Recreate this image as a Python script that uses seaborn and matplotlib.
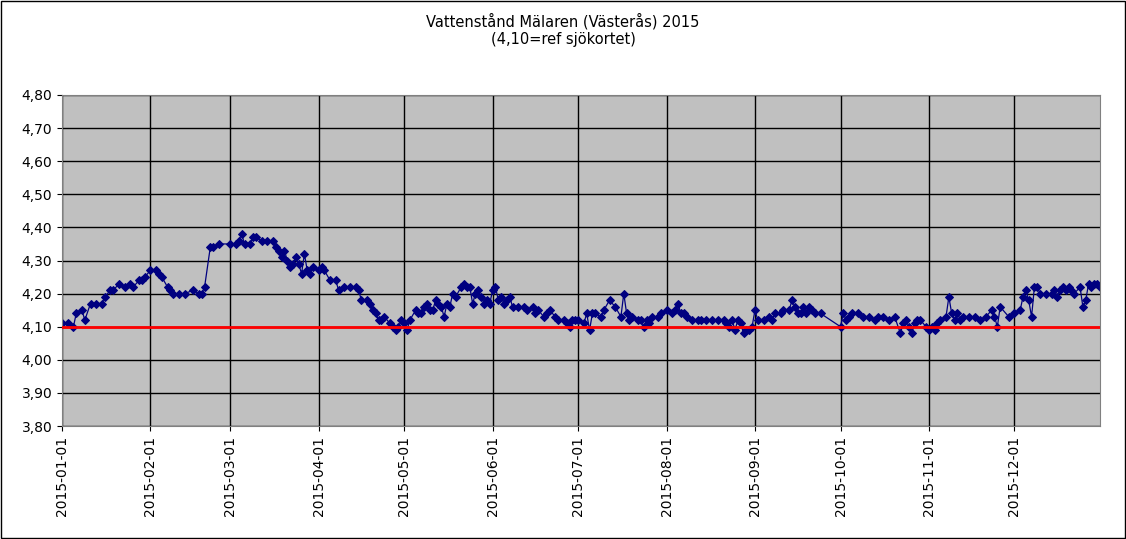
import matplotlib
matplotlib.use("Agg")
import matplotlib.pyplot as plt
import matplotlib.dates as mdates
import seaborn as sns
import pandas as pd

# Water level readings
jan = [(1, 4.11), (3, 4.11), (5, 4.10), (6, 4.14), (8, 4.15), (9, 4.12), (11, 4.17), (13, 4.17),
       (15, 4.17), (16, 4.19), (18, 4.21), (19, 4.21), (21, 4.23), (23, 4.22), (25, 4.23), (26, 4.22),
       (28, 4.24), (29, 4.24), (30, 4.25)]
feb = [(1, 4.27), (3, 4.27), (4, 4.26), (5, 4.25), (7, 4.22), (8, 4.21), (9, 4.20), (11, 4.20),
       (13, 4.20), (16, 4.21), (18, 4.20), (19, 4.20), (20, 4.22), (22, 4.34), (23, 4.34), (25, 4.35)]
mar = [(1, 4.35), (3, 4.35), (4, 4.36), (5, 4.38), (6, 4.35), (8, 4.35), (9, 4.37), (10, 4.37),
       (12, 4.36), (14, 4.36), (16, 4.36), (17, 4.34), (18, 4.33), (19, 4.31), (20, 4.33), (21, 4.30),
       (22, 4.28), (23, 4.29), (24, 4.31), (25, 4.29), (26, 4.26), (27, 4.32), (28, 4.27), (29, 4.26),
       (30, 4.28)]
apr = [(1, 4.27), (2, 4.28), (3, 4.27), (5, 4.24), (7, 4.24), (8, 4.21), (10, 4.22), (12, 4.22),
       (14, 4.22), (15, 4.21), (16, 4.18), (18, 4.18), (19, 4.17), (20, 4.15), (21, 4.14), (22, 4.12),
       (23, 4.12), (24, 4.13), (26, 4.11), (27, 4.10), (28, 4.09), (29, 4.10), (30, 4.12)]
may = [(1, 4.11), (2, 4.09), (3, 4.12), (5, 4.15), (6, 4.14), (7, 4.14), (8, 4.16), (9, 4.17),
       (10, 4.15), (11, 4.15), (12, 4.18), (13, 4.17), (14, 4.16), (15, 4.13), (16, 4.17), (17, 4.16),
       (18, 4.20), (19, 4.19), (21, 4.22), (22, 4.23), (23, 4.22), (24, 4.22), (25, 4.17), (26, 4.20),
       (27, 4.21), (28, 4.19), (29, 4.17), (30, 4.18), (31, 4.17)]
jun = [(1, 4.21), (2, 4.22), (3, 4.18), (4, 4.19), (5, 4.17), (6, 4.18), (7, 4.19), (8, 4.16),
       (10, 4.16), (12, 4.16), (13, 4.15), (15, 4.16), (16, 4.14), (17, 4.15), (19, 4.13), (20, 4.14),
       (21, 4.15), (23, 4.13), (24, 4.12), (26, 4.12), (27, 4.11), (28, 4.10), (29, 4.12), (30, 4.12)]
jul = [(1, 4.12), (3, 4.11), (4, 4.14), (5, 4.09), (6, 4.14), (7, 4.14), (9, 4.13), (10, 4.15),
       (12, 4.18), (14, 4.16), (16, 4.13), (17, 4.20), (18, 4.14), (19, 4.12), (20, 4.13), (22, 4.12),
       (23, 4.12), (24, 4.10), (25, 4.12), (26, 4.11), (27, 4.13), (29, 4.13), (30, 4.14)]
aug = [(1, 4.15), (3, 4.14), (4, 4.15), (5, 4.17), (6, 4.14), (7, 4.14), (8, 4.13), (10, 4.12),
       (12, 4.12), (13, 4.12), (15, 4.12), (17, 4.12), (19, 4.12), (21, 4.12), (22, 4.11), (23, 4.10),
       (24, 4.12), (25, 4.09), (26, 4.12), (27, 4.11), (28, 4.08), (29, 4.09), (30, 4.09), (31, 4.10)]
sep = [(1, 4.15), (2, 4.12), (4, 4.12), (6, 4.13), (7, 4.12), (8, 4.14), (10, 4.14), (11, 4.15),
       (13, 4.15), (14, 4.18), (15, 4.16), (16, 4.14), (17, 4.14), (18, 4.16), (19, 4.14), (20, 4.16),
       (21, 4.15), (22, 4.14), (24, 4.14)]
okt = [(1, 4.10), (2, 4.14), (3, 4.12), (4, 4.13), (5, 4.14), (7, 4.14), (9, 4.13), (11, 4.13),
       (13, 4.12), (14, 4.13), (16, 4.13), (18, 4.12), (20, 4.13), (22, 4.08), (23, 4.11), (24, 4.12),
       (25, 4.10), (26, 4.08), (27, 4.11), (28, 4.12), (29, 4.12), (31, 4.10)]
nov = [(1, 4.09), (2, 4.10), (3, 4.09), (4, 4.11), (5, 4.12), (7, 4.13), (8, 4.19), (9, 4.14),
       (10, 4.12), (11, 4.14), (12, 4.12), (13, 4.13), (15, 4.13), (17, 4.13), (19, 4.12), (21, 4.13),
       (23, 4.15), (24, 4.13), (25, 4.10), (26, 4.16), (29, 4.13)]
dec = [(1, 4.14), (3, 4.15), (4, 4.19), (5, 4.21), (6, 4.18), (7, 4.13), (8, 4.22), (9, 4.22),
       (10, 4.20), (12, 4.20), (14, 4.20), (15, 4.21), (16, 4.19), (17, 4.21), (18, 4.22), (19, 4.21),
       (20, 4.22), (21, 4.21), (22, 4.20), (24, 4.22), (25, 4.16), (26, 4.18), (27, 4.23), (28, 4.22),
       (29, 4.23), (30, 4.23), (31, 4.22)]
months = [jan, feb, mar, apr, may, jun, jul, aug, sep, okt, nov, dec]
ref_level = 4.10

rows = []
for m, pts in enumerate(months, start=1):
    for d, v in pts:
        rows.append((pd.Timestamp(2015, m, d), v))
df = pd.DataFrame(rows, columns=["datum", "niva"])

fig = plt.figure(figsize=(11.26, 5.39), dpi=100)
ax = fig.add_axes([62/1126, 1 - 426/539, (1100-62)/1126, (426-95)/539])
ax.set_facecolor("#c0c0c0")

sns.lineplot(data=df, x="datum", y="niva", ax=ax, color="#000080", linewidth=0.9,
             marker="D", markersize=4.5, markeredgecolor="#000080")
ax.axhline(ref_level, color="red", linewidth=2, zorder=3)

ax.set_ylim(3.8, 4.8)
ax.set_yticks([3.8 + 0.1*i for i in range(11)])
ax.set_yticklabels([f"{3.8 + 0.1*i:.2f}".replace(".", ",") for i in range(11)], fontsize=10)
ax.set_xlim(pd.Timestamp(2015, 1, 1), pd.Timestamp(2015, 12, 31))
ax.set_xticks([pd.Timestamp(2015, m, 1) for m in range(1, 13)])
ax.xaxis.set_major_formatter(mdates.DateFormatter("%Y-%m-%d"))
plt.setp(ax.get_xticklabels(), rotation=90, fontsize=10)
ax.grid(True, color="black", linewidth=1)
ax.set_axisbelow(True)
ax.set_xlabel("")
ax.set_ylabel("")
for s in ax.spines.values():
    s.set_color("#808080")

fig.text(0.5, 1 - 30/539, "Vattenstånd Mälaren (Västerås) 2015\n(4,10=ref sjökortet)",
         ha="center", va="center", fontsize=10.5)
fig.patches.append(plt.Rectangle((0.001, 0.001), 0.998, 0.998, transform=fig.transFigure,
                                 fill=False, edgecolor="black", linewidth=1))
fig.savefig("out.png", dpi=100)
